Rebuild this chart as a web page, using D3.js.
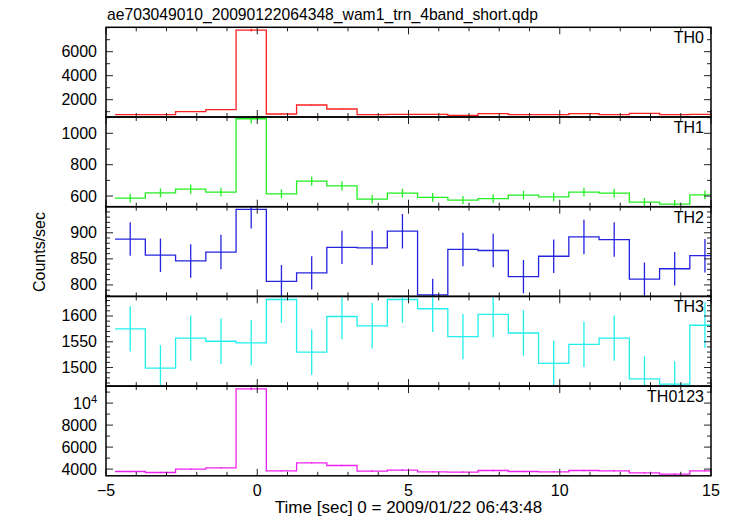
<!DOCTYPE html>
<html><head><meta charset="utf-8">
<script src="https://cdn.jsdelivr.net/npm/d3@7"></script>
<style>
html,body{margin:0;padding:0;background:#fff;}
svg text{font-family:"Liberation Sans",Arial,Helvetica,sans-serif;fill:#000;}
</style></head>
<body><svg id="c" width="733" height="516"></svg>
<script>
// ---- data ----
const binCenters = [-4.2,-3.2,-2.2,-1.2,-0.2,0.8,1.8,2.8,3.8,4.8,5.8,6.8,7.8,8.8,9.8,10.8,11.8,12.8,13.8,14.8];
const binHalfWidth = 0.5;
const th0  = [753,753,1003,1169,7800,808,1558,1225,753,781,781,698,836,753,753,836,753,864,753,781];
const th0Err = [30,30,35,38,120,32,45,38,30,30,30,30,32,30,30,32,30,32,30,30];
const th1  = [587,620,644,625,1093,614,695,665,580,618,591,574,584,606,595,625,618,561,548,608];
const th1Err = [28,28,29,28,30,28,30,29,27,28,28,27,28,28,28,28,28,27,27,28];
const th2  = [888,857,846,863,945,807,823,872,871,903,781,868,866,816,855,892,887,811,831,856];
const th2Err = [32,32,32,33,37,31,32,32,33,33,31,32,32,32,32,33,33,32,32,32];
const th3  = [1575,1499,1557,1551,1548,1632,1530,1599,1581,1632,1614,1560,1603,1567,1508,1545,1557,1478,1468,1582];
const th3Err = [44,44,44,44,44,45,44,44,44,45,45,44,44,44,44,44,44,44,44,44];
const th0123 = [3782,3691,4000,4118,11300,3845,4573,4327,3818,3909,3755,3727,3873,3782,3755,3873,3845,3664,3545,3845];
const th0123Err = [70,70,70,72,130,70,75,72,70,70,70,70,70,70,70,70,70,70,70,70];

const panelNames = ["TH0","TH1","TH2","TH3","TH0123"];
const panelColors = ["#ff2020","#22ee22","#2424e0","#22eeee","#ee22ee"];
const panelDomains = [[558,8033],[532,1104],[778,950],[1464,1638],[3391,11545]];
const majorTicks = [[2000,4000,6000],[600,800,1000],[800,850,900],[1500,1550,1600],[4000,6000,8000,10000]];
const minorStep = [1000,100,10,10,1000];
const xDomain = [-5,15];
const xMajor = [-5,0,5,10,15];
const titleText = "ae703049010_20090122064348_wam1_trn_4band_short.qdp";
const xTitle = "Time [sec] 0 = 2009/01/22 06:43:48";
const yTitle = "Counts/sec";

const series = [
  {v:th0,e:th0Err},{v:th1,e:th1Err},{v:th2,e:th2Err},{v:th3,e:th3Err},{v:th0123,e:th0123Err}
];

// ---- layout ----
const L = 106, R = 711, T0 = 27.3, PH = 89.7;
const svg = d3.select("#c");
const x = d3.scaleLinear().domain(xDomain).range([L,R]);
const fontSize = 16;

svg.append("text").attr("x",107).attr("y",20).attr("font-size",15.7).text(titleText);

const defs = svg.append("defs");

series.forEach((s,i)=>{
  const top = T0 + i*PH, bot = top + PH;
  const y = d3.scaleLinear().domain(panelDomains[i]).range([bot,top]);
  const g = svg.append("g");
  defs.append("clipPath").attr("id","clip"+i).append("rect")
    .attr("x",L).attr("y",top).attr("width",R-L).attr("height",PH);

  const data = binCenters.map((c,k)=>({c, v:s.v[k], e:s.e[k]}));
  const pts = data.map(d=>[d.c-binHalfWidth,d.v]);
  pts.push([data[data.length-1].c+binHalfWidth, data[data.length-1].v]);
  const line = d3.line().x(d=>x(d[0])).y(d=>y(d[1])).curve(d3.curveStepAfter);
  const dg = g.append("g").attr("clip-path","url(#clip"+i+")");
  dg.append("path").attr("d",line(pts)).attr("fill","none")
    .attr("stroke",panelColors[i]).attr("stroke-width",1.3);
  dg.selectAll("line.err").data(data).enter().append("line")
    .attr("x1",d=>x(d.c)).attr("x2",d=>x(d.c))
    .attr("y1",d=>y(d.v-d.e)).attr("y2",d=>y(d.v+d.e))
    .attr("stroke",panelColors[i]).attr("stroke-width",1.3);

  // y ticks
  const dom = panelDomains[i];
  const minors = d3.range(Math.ceil(dom[0]/minorStep[i])*minorStep[i], dom[1], minorStep[i]);
  const majSet = new Set(majorTicks[i]);
  const tg = g.append("g").attr("stroke","#222").attr("stroke-width",1);
  minors.forEach(v=>{
    const len = majSet.has(v)?7:4;
    tg.append("line").attr("x1",L).attr("x2",L+len).attr("y1",y(v)).attr("y2",y(v));
    tg.append("line").attr("x1",R).attr("x2",R-len).attr("y1",y(v)).attr("y2",y(v));
  });
  majorTicks[i].forEach(v=>{
    const t = g.append("text").attr("x",97).attr("y",y(v)+5.5).attr("text-anchor","end").attr("font-size",fontSize);
    if (v===10000){ t.text("10"); t.append("tspan").attr("dy",-6).attr("font-size",11).text("4"); }
    else t.text(v);
  });
  // x ticks
  d3.range(xDomain[0],xDomain[1]+0.001,1).forEach(v=>{
    const len = xMajor.includes(v)?7:4;
    tg.append("line").attr("x1",x(v)).attr("x2",x(v)).attr("y1",bot).attr("y2",bot-len);
    tg.append("line").attr("x1",x(v)).attr("x2",x(v)).attr("y1",top).attr("y2",top+len);
  });
  // frame
  g.append("rect").attr("x",L).attr("y",top).attr("width",R-L).attr("height",PH)
    .attr("fill","none").attr("stroke","#000").attr("stroke-width",1.5);
  g.append("text").attr("x",704).attr("y",top+16).attr("text-anchor","end")
    .attr("font-size",16).text(panelNames[i]);
});

const bottom = T0 + 5*PH;
xMajor.forEach(v=>{
  svg.append("text").attr("x",x(v)).attr("y",bottom+20).attr("text-anchor","middle")
    .attr("font-size",fontSize).text(v<0?"\u2212"+Math.abs(v):v);
});
svg.append("text").attr("x",(L+R)/2).attr("y",bottom+37).attr("text-anchor","middle")
  .attr("font-size",17).text(xTitle);
svg.append("text").attr("transform","translate(45,252) rotate(-90)").attr("text-anchor","middle")
  .attr("font-size",16).text(yTitle);
</script></body></html>
